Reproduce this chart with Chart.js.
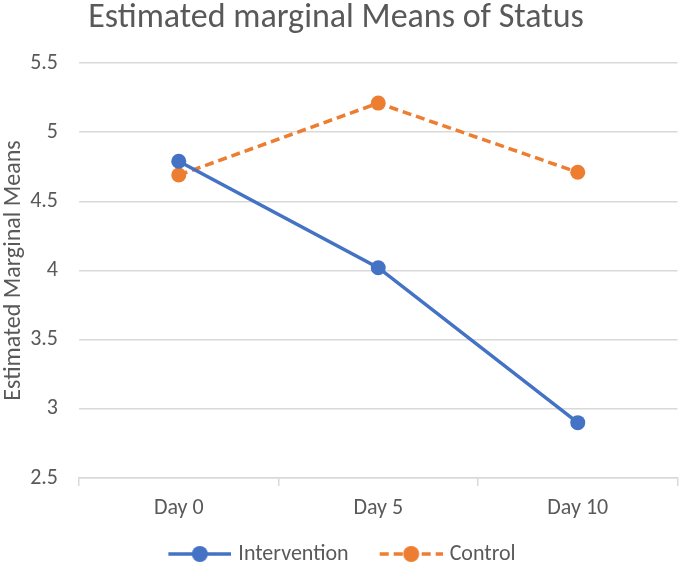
<!DOCTYPE html>
<html>
<head>
<meta charset="utf-8">
<script src="https://cdn.jsdelivr.net/npm/chart.js@4/dist/chart.umd.min.js"></script>
<style>
  html, body { margin: 0; padding: 0; background: #fff; }
  #wrap { width: 685px; height: 562px; }
</style>
</head>
<body>
<div id="wrap"><canvas id="statusChart"></canvas></div>
<script>
// valeurs
const categories = ['Day 0', 'Day 5', 'Day 10'];
const interventionValues = [4.79, 4.02, 2.90];
const controlValues = [4.69, 5.21, 4.71];
const yTickLabels = ['2.5', '3', '3.5', '4', '4.5', '5', '5.5'];
const chartTitle = 'Estimated marginal Means of Status';

const FONT = "Carlito, 'Liberation Sans Narrow', 'Open Sans', sans-serif";
const GREY = '#595959';
const BLUE = '#4472c4';
const ORANGE = '#ed7d31';

// petit dessin trait + point pour la légende
// (l'image dépasse un peu à droite de la case pour coller au texte)
function legendIcon(color, dashed) {
    const c = document.createElement('canvas');
    c.width = 94;
    c.height = 18;
    const g = c.getContext('2d');
    g.strokeStyle = color;
    g.lineWidth = 3.5;
    if (dashed) g.setLineDash([9, 5]);
    g.beginPath();
    g.moveTo(31, 9);
    g.lineTo(94, 9);
    g.stroke();
    g.fillStyle = color;
    g.beginPath();
    g.arc(62.5, 9, 8, 0, Math.PI * 2);
    g.fill();
    return c;
}
const icons = [legendIcon(BLUE, false), legendIcon(ORANGE, true)];

// titre dessiné à la main
const titlePlugin = {
    id: 'bigTitle',
    afterDraw(chart) {
        const g = chart.ctx;
        g.save();
        g.font = '34px ' + FONT;
        g.fillStyle = GREY;
        g.textAlign = 'center';
        g.textBaseline = 'alphabetic';
        g.fillText(chartTitle, 336, 27);
        g.restore();
    }
};

// petit décalage de la légende (gauche / bas)
const legendNudge = {
    id: 'legendNudge',
    afterLayout(chart) {
        const l = chart.legend;
        l.left -= 14;
        l.right -= 14;
        l.top += 13;
        l.bottom += 13;
    }
};

const ctx = document.getElementById('statusChart').getContext('2d');
const statusChart = new Chart(ctx, {
    type: 'line',
    data: {
        labels: categories,
        datasets: [{
            label: 'Intervention',
            data: interventionValues,
            borderColor: BLUE,
            backgroundColor: BLUE,
            borderWidth: 3.5,
            pointRadius: 7.5,
            pointHoverRadius: 7.5,
            pointBackgroundColor: BLUE,
            pointBorderWidth: 0,
            tension: 0
        }, {
            label: 'Control',
            data: controlValues,
            borderColor: ORANGE,
            backgroundColor: ORANGE,
            borderWidth: 3.5,
            borderDash: [9, 5],
            pointRadius: 7.5,
            pointHoverRadius: 7.5,
            pointBackgroundColor: ORANGE,
            pointBorderWidth: 0,
            tension: 0
        }]
    },
    options: {
        responsive: true,
        maintainAspectRatio: false,
        animation: false,
        layout: { padding: { top: 63, right: 0, left: 0, bottom: 0 } },
        plugins: {
            title: { display: false },
            tooltip: { enabled: false },
            legend: {
                position: 'bottom',
                labels: {
                    font: { family: FONT, size: 22 },
                    color: GREY,
                    usePointStyle: true,
                    pointStyleWidth: 86,
                    padding: 4,
                    generateLabels(chart) {
                        const items = Chart.defaults.plugins.legend.labels.generateLabels(chart);
                        items.forEach((it, i) => { it.pointStyle = icons[i]; });
                        return items;
                    }
                }
            }
        },
        scales: {
            x: {
                offset: true,
                grid: {
                    offset: true,
                    drawOnChartArea: false,
                    drawTicks: true,
                    tickLength: 8,
                    color: '#d9d9d9',
                    lineWidth: 1.5
                },
                border: { color: '#d9d9d9', width: 1.5 },
                ticks: {
                    font: { family: FONT, size: 22 },
                    color: GREY,
                    padding: 9
                },
                afterFit(scale) { scale.height = 48; }
            },
            y: {
                min: 2.5,
                max: 5.5,
                ticks: {
                    stepSize: 0.5,
                    font: { family: FONT, size: 22 },
                    color: GREY,
                    padding: 21,
                    callback(value) {
                        return yTickLabels[Math.round((value - 2.5) / 0.5)];
                    }
                },
                grid: { color: '#d9d9d9', lineWidth: 1.5, drawTicks: false },
                border: { display: false },
                title: {
                    display: true,
                    text: 'Estimated Marginal Means',
                    font: { family: FONT, size: 24 },
                    color: GREY,
                    padding: { top: 0, bottom: 0 }
                },
                afterFit(scale) { scale.width = 79; }
            }
        }
    },
    plugins: [titlePlugin, legendNudge]
});
</script>
</body>
</html>
